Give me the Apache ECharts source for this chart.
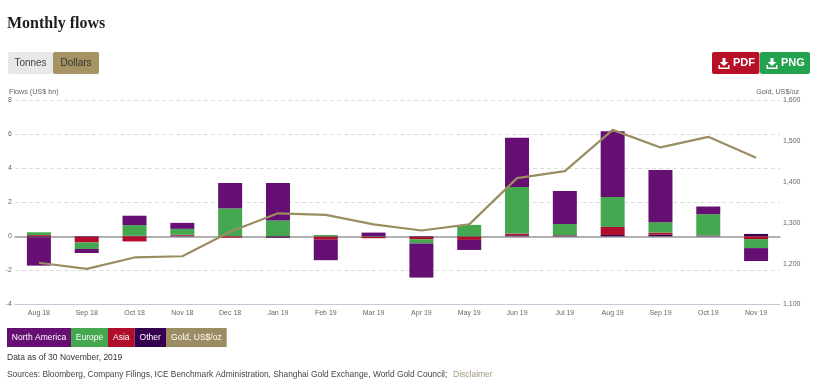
<!DOCTYPE html>
<html><head><meta charset="utf-8">
<style>html,body{margin:0;padding:0;background:#fff}#c{width:824px;height:386px}</style>
<script src="https://cdn.jsdelivr.net/npm/echarts@6/dist/echarts.min.js"></script>
</head><body><div id="c"></div>
<script>
const categories = ['Aug 18','Sep 18','Oct 18','Nov 18','Dec 18','Jan 19','Feb 19','Mar 19','Apr 19','May 19','Jun 19','Jul 19','Aug 19','Sep 19','Oct 19','Nov 19'];
const other = [-0.06,-0.03,0.03,0.04,0.01,-0.08,-0.02,-0.03,-0.03,-0.03,0.06,0.05,0.08,0.10,0.04,0.14];
const asia = [0.07,-0.33,-0.30,0.05,-0.08,0.01,-0.18,-0.08,-0.14,-0.18,0.10,0.02,0.47,0.12,0.01,-0.16];
const europe = [0.17,-0.38,0.63,0.35,1.63,0.92,0.08,0.02,-0.25,0.67,2.74,0.65,1.76,0.61,1.25,-0.53];
const northAmerica = [-1.66,-0.24,0.55,0.35,1.49,2.20,-1.20,0.20,-2.00,-0.59,2.88,1.94,3.86,3.06,0.45,-0.76];
const gold = [1202,1187,1215,1218,1278,1323,1319,1296,1281,1296,1409,1426,1527,1484,1510,1459];
const legendLabels = ['North America','Europe','Asia','Other','Gold, US$/oz'];
const leftTitle = 'Flows (US$ bn)', rightTitle = 'Gold, US$/oz';
const C = {na:'#660f73', eu:'#45a850', as:'#b10e2d', ot:'#350050', gold:'#9b8d62', txt:'#666'};
const F = 'Liberation Sans, Arial, sans-serif';
const bar = (name,data,color)=>({name,type:'bar',stack:'f',data,barWidth:24,itemStyle:{color},z:2});
function txt(x,y,text,fill,size,o={}){return {type:'text',x,y,z:10,style:{text,fill,font:(o.weight||'normal')+' '+size+'px '+(o.family||F),textAlign:o.align||'left',textVerticalAlign:'middle'}};}
function rect(x,y,w,h,fill,r){return {type:'rect',shape:{x,y,width:w,height:h,r:r||0},style:{fill},z:9};}
function icon(x,y){return [
 {type:'polygon',z:10,x,y,shape:{points:[[4,0],[7,0],[7,4],[10,4],[5.5,8],[1,4],[4,4]]},style:{fill:'#fff'}},
 {type:'polygon',z:10,x,y,shape:{points:[[0,7],[1.5,7],[1.5,9.5],[9.5,9.5],[9.5,7],[11,7],[11,11],[0,11]]},style:{fill:'#fff'}}];}
const legendX = [7,71,108,134.5,166,226.7], legendC = [C.na,C.eu,C.as,C.ot,C.gold];
const graphic = [
 txt(7,24,'Monthly flows','#1d1d1d',16,{weight:'bold',family:'Liberation Serif, serif'}),
 rect(8,52,45,22,'#e8e8e8',2), rect(53,52,46,22,'#a69363',2),
 txt(30.5,63,'Tonnes','#444',10,{align:'center'}), txt(76,63,'Dollars','#333',10,{align:'center'}),
 rect(712,52,47.5,22,'#b81127',2), rect(760,52,50,22,'#24a34f',2),
 ...icon(718.5,58), ...icon(766.5,58),
 txt(733,63,'PDF','#fff',11,{weight:'bold'}), txt(781,63,'PNG','#fff',11,{weight:'bold'}),
 txt(9,92,leftTitle,C.txt,7.2), txt(799,92,rightTitle,C.txt,7.2,{align:'right'}),
 ...legendLabels.flatMap((t,i)=>[rect(legendX[i],328,legendX[i+1]-legendX[i],19,legendC[i]),
   txt((legendX[i]+legendX[i+1])/2,337.5,t,'#fff',8.5,{align:'center'})]),
 txt(7,358,'Data as of 30 November, 2019','#333',8.5),
 txt(7,375,'Sources: Bloomberg, Company Filings, ICE Benchmark Administration, Shanghai Gold Exchange, World Gold Council;','#444',8.4),
 txt(453,375,'Disclaimer','#a39a7e',8.5)
];
const chart = echarts.init(document.getElementById('c'));
chart.setOption({
 animation:false, backgroundColor:'#fff',
 textStyle:{fontFamily:F},
 grid:{left:15,right:44,top:100,bottom:81.5},
 xAxis:[
  {type:'category',data:categories,position:'bottom',axisLine:{onZero:false,lineStyle:{color:'#c3c9d6',width:1}},
   axisTick:{length:5,lineStyle:{color:'#c3c9d6'}},axisLabel:{fontSize:7,color:C.txt,margin:5},splitLine:{show:false}},
  {type:'category',data:categories,position:'top',axisLine:{onZero:true,onZeroAxisIndex:0,lineStyle:{color:'#9a9a9a',width:1.5}},axisTick:{show:false},axisLabel:{show:false},z:1}
 ],
 yAxis:[
  {type:'value',min:-4,max:8,interval:2,position:'left',axisLine:{show:false},axisTick:{show:false},
   axisLabel:{fontSize:7,color:C.txt,margin:3},splitLine:{show:true,lineStyle:{type:[4,3],color:'#dedede',width:1}}},
  {type:'value',min:1100,max:1600,interval:100,position:'right',axisLine:{show:false},axisTick:{show:false},
   axisLabel:{fontSize:7,color:C.txt,margin:3,formatter:v=>echarts.format.addCommas(v)},splitLine:{show:false}}
 ],
 series:[
  bar('Other',other,C.ot), bar('Asia',asia,C.as), bar('Europe',europe,C.eu), bar('North America',northAmerica,C.na),
  {name:'Gold, US$/oz',type:'line',yAxisIndex:1,data:gold,symbol:'none',z:5,lineStyle:{color:C.gold,width:2.2}}
 ],
 graphic
});
</script></body></html>
